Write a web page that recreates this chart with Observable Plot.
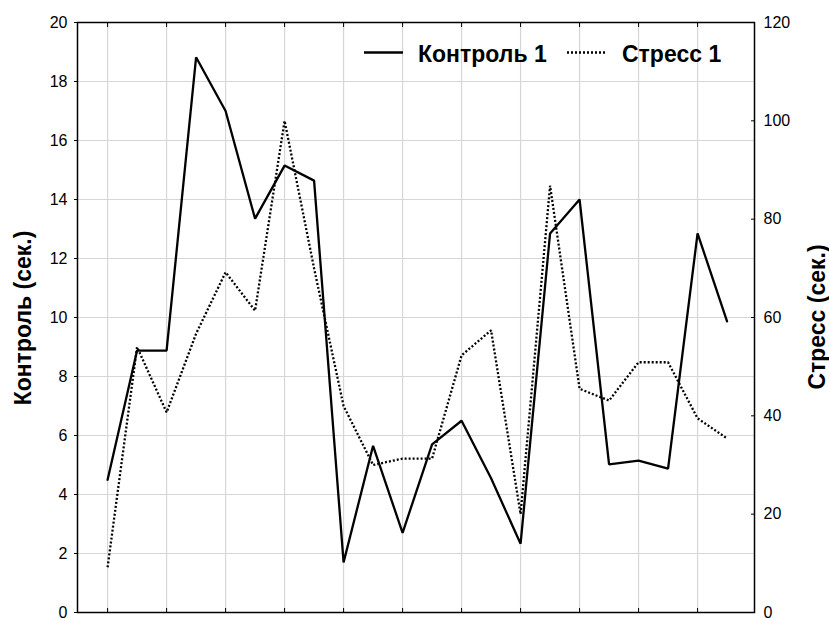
<!DOCTYPE html>
<html>
<head>
<meta charset="utf-8">
<script src="https://cdn.jsdelivr.net/npm/d3@7"></script>
<script src="https://cdn.jsdelivr.net/npm/@observablehq/plot@0.6"></script>
<style>
  html, body { margin: 0; padding: 0; background: #fff; }
  #chart { position: relative; width: 829px; height: 618px; }
  svg { font-family: "Liberation Sans", Arial, sans-serif; }
</style>
</head>
<body>
<div id="chart"></div>
<script>
// ---- data ----
const points = d3.range(22);
const control = [4.5, 8.88, 8.88, 18.82, 17.0, 13.35, 15.15, 14.64, 1.7, 5.65, 2.7, 5.7, 6.5, 4.55, 2.33, 12.85, 14.0, 5.02, 5.15, 4.88, 12.85, 9.87];
const stress  = [9.2, 54, 40.7, 56.7, 69.2, 61.4, 100, 70, 42, 30, 31.3, 31.3, 52.3, 57.4, 20, 86.8, 45.5, 43.1, 50.9, 50.9, 39.5, 35.4];
const leftTicks = [0, 2, 4, 6, 8, 10, 12, 14, 16, 18, 20];
const rightTicks = [0, 20, 40, 60, 80, 100, 120];
const xTicks = [0, 2, 4, 6, 8, 10, 12, 14, 16, 18, 20];
const seriesNames = ["Контроль 1", "Стресс 1"];
const leftTitle = "Контроль (сек.)";
const rightTitle = "Стресс (сек.)";

const ratio = 120 / 20;
const data = points.map(i => ({i, c: control[i], s: stress[i]}));

const plot = Plot.plot({
  width: 829,
  height: 618,
  marginLeft: 77,
  marginRight: 75,
  marginTop: 22,
  marginBottom: 6,
  x: {domain: [-1.02, 21.93]},
  y: {domain: [0, 20]},
  style: {fontFamily: "'Liberation Sans', Arial, sans-serif", fontSize: "16px", color: "black", background: "white"},
  marks: [
    Plot.gridX(xTicks, {stroke: "#d6d6d6", strokeOpacity: 1, strokeWidth: 1.2}),
    Plot.gridY(leftTicks, {stroke: "#d6d6d6", strokeOpacity: 1, strokeWidth: 1.2}),
    Plot.axisY({anchor: "left", ticks: leftTicks, tickSize: 3, tickPadding: 7, label: null, fontSize: 16}),
    Plot.axisY({anchor: "right", ticks: rightTicks.map(v => v / ratio), tickFormat: d => String(Math.round(d * ratio)), tickSize: -4, tickPadding: 13, label: null, fontSize: 16}),
    Plot.axisX({anchor: "bottom", ticks: xTicks, tickSize: -4, tickFormat: () => "", label: null}),
    Plot.axisX({anchor: "top", ticks: xTicks, tickSize: -4, tickFormat: () => "", label: null}),
    Plot.line(data, {x: "i", y: d => d.s / ratio, stroke: "black", strokeWidth: 2.3, strokeDasharray: "2,2", strokeLinecap: "butt", strokeLinejoin: "miter"}),
    Plot.line(data, {x: "i", y: "c", stroke: "black", strokeWidth: 2.3, strokeLinejoin: "miter"}),
    Plot.frame({stroke: "black", strokeWidth: 1.5})
  ]
});

document.getElementById("chart").appendChild(plot);

// titles and legend
const svg = d3.select(plot);
const tf = "'Liberation Sans', Arial, sans-serif";
svg.append("text")
  .attr("transform", "translate(31,318) rotate(-90)")
  .attr("text-anchor", "middle")
  .attr("font-family", tf).attr("font-weight", "bold").attr("font-size", 23)
  .text(leftTitle);
svg.append("text")
  .attr("transform", "translate(825,317) rotate(-90)")
  .attr("text-anchor", "middle")
  .attr("font-family", tf).attr("font-weight", "bold").attr("font-size", 23)
  .text(rightTitle);

const lg = svg.append("g");
lg.append("line").attr("x1", 364).attr("x2", 403).attr("y1", 52.5).attr("y2", 52.5)
  .attr("stroke", "black").attr("stroke-width", 2.3).attr("stroke-linecap", "butt");
lg.append("text").attr("x", 418).attr("y", 62).attr("text-anchor", "start")
  .attr("font-family", tf).attr("font-weight", "bold").attr("font-size", 23)
  .text(seriesNames[0]);
lg.append("line").attr("x1", 567).attr("x2", 605).attr("y1", 52.5).attr("y2", 52.5)
  .attr("stroke", "black").attr("stroke-width", 2.3).attr("stroke-dasharray", "2,2").attr("stroke-linecap", "butt");
lg.append("text").attr("x", 622).attr("y", 62).attr("text-anchor", "start")
  .attr("font-family", tf).attr("font-weight", "bold").attr("font-size", 23)
  .text(seriesNames[1]);
</script>
</body>
</html>
